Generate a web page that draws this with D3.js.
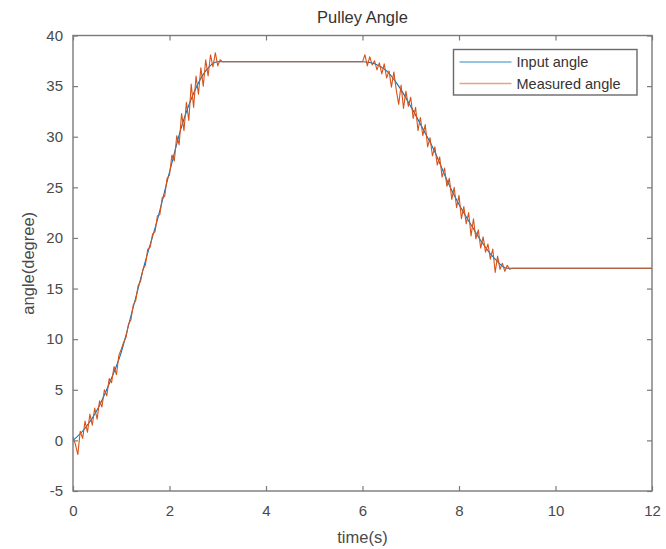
<!DOCTYPE html>
<html>
<head>
<meta charset="utf-8">
<script src="https://cdn.jsdelivr.net/npm/d3@7"></script>
<style>
  html, body { margin: 0; padding: 0; background: #fff; }
  svg { display: block; font-family: 'Liberation Sans', Arial, sans-serif; }
</style>
</head>
<body>
<div id="chart"></div>
<script>
(function () {
  'use strict';

  // Reference signal (deg) sampled off the plot
  var inputTime = [0, 0.25, 0.5, 0.75, 1.0, 1.25, 1.5, 1.75, 2.0, 2.25, 2.5, 2.75, 3.0,
    6.0, 6.25, 6.5, 6.75, 7.0, 7.25, 7.5, 7.75, 8.0, 8.25, 8.5, 8.75, 9.0, 12];
  var inputAngle = [0, 1.2, 3.0, 5.6, 8.7, 13.2, 17.7, 21.8, 26.5, 31.0, 34.3, 36.5, 37.4,
    37.4, 37.2, 36.5, 35.0, 33.0, 30.8, 28.5, 25.7, 23.3, 21.3, 19.4, 17.9, 17.0, 17.0];

  // Encoder reading, noisy on the ramps
  var measuredTime = [
    0.00, 0.05, 0.10, 0.15, 0.20, 0.25, 0.30, 0.35, 0.40, 0.45, 0.50, 0.55, 0.60, 0.65, 0.70, 0.75,
    0.80, 0.85, 0.90, 0.95, 1.00, 1.05, 1.10, 1.15, 1.20, 1.25, 1.30, 1.35, 1.40, 1.45, 1.50, 1.55,
    1.60, 1.65, 1.70, 1.75, 1.80, 1.85, 1.90, 1.95, 2.00, 2.05, 2.10, 2.15, 2.20, 2.25, 2.30, 2.35,
    2.40, 2.45, 2.50, 2.55, 2.60, 2.65, 2.70, 2.75, 2.80, 2.85, 2.90, 2.95, 3.00, 3.05, 3.10,
    6.00, 6.05, 6.10, 6.15, 6.20, 6.25, 6.30, 6.35, 6.40, 6.45, 6.50, 6.55, 6.60, 6.65, 6.70, 6.75,
    6.80, 6.85, 6.90, 6.95, 7.00, 7.05, 7.10, 7.15, 7.20, 7.25, 7.30, 7.35, 7.40, 7.45, 7.50, 7.55,
    7.60, 7.65, 7.70, 7.75, 7.80, 7.85, 7.90, 7.95, 8.00, 8.05, 8.10, 8.15, 8.20, 8.25, 8.30, 8.35,
    8.40, 8.45, 8.50, 8.55, 8.60, 8.65, 8.70, 8.75, 8.80, 8.85, 8.90, 8.95, 9.00, 9.05, 9.10,
    12.0];
  var measuredAngle = [
    0.3, -0.4, -1.4, 0.9, 0.2, 1.9, 0.8, 2.6, 1.5, 3.2, 2.1, 3.9, 3.3, 5.0, 4.4, 6.1,
    5.7, 7.3, 6.5, 8.4, 9.0, 9.7, 10.2, 11.5, 11.9, 13.4, 13.8, 15.3, 15.7, 16.9, 17.3, 18.9,
    19.1, 20.4, 20.6, 22.2, 22.3, 24.0, 24.1, 25.9, 26.2, 28.2, 27.6, 30.1, 29.2, 32.3, 30.6, 33.4,
    31.6, 35.2, 32.9, 36.0, 34.2, 36.8, 35.0, 37.6, 36.0, 38.1, 36.9, 38.3, 37.0, 37.6, 37.4,
    37.4, 38.1, 37.0, 37.9, 37.1, 37.5, 36.6, 37.3, 36.2, 37.2, 35.8, 36.5, 34.9, 36.4, 34.6, 33.2,
    35.1, 32.8, 34.5, 33.0, 33.9, 31.8, 32.9, 30.6, 31.9, 30.1, 31.2, 29.0, 29.9, 28.1, 29.0, 27.2,
    28.0, 26.0, 26.9, 25.1, 25.9, 23.8, 25.0, 23.0, 24.2, 21.9, 23.1, 21.4, 22.5, 20.2, 21.9, 19.9,
    20.8, 19.0, 20.1, 18.6, 19.4, 17.9, 18.9, 16.6, 18.2, 16.9, 17.5, 16.7, 17.3, 16.9, 17.0,
    17.0];

  var xTicks = [0, 2, 4, 6, 8, 10, 12];
  var yTicks = [-5, 0, 5, 10, 15, 20, 25, 30, 35, 40];
  var seriesNames = ['Input angle', 'Measured angle'];
  var seriesColors = ['#0072BD', '#D95319'];

  var width = 666, height = 549;
  var margin = {top: 35.5, right: 14, bottom: 58, left: 73};
  var axisColor = '#7a7a7a', textColor = '#4a4a4a';
  var tickLen = 5;

  var svg = d3.select('#chart').append('svg')
    .attr('width', width)
    .attr('height', height);

  var x = d3.scaleLinear().domain([0, 12]).range([margin.left, width - margin.right]);
  var y = d3.scaleLinear().domain([-5, 40]).range([height - margin.bottom, margin.top]);

  var x0 = x.range()[0], x1 = x.range()[1];
  var yb = y.range()[0], yt = y.range()[1];

  // plain hyphen for negatives, like the original figure
  function plain(d) { return String(d); }

  function zip(xs, ys) {
    return xs.map(function (t, i) { return [t, ys[i]]; });
  }

  var line = d3.line()
    .x(function (d) { return x(d[0]); })
    .y(function (d) { return y(d[1]); });

  // data lines
  svg.append('path')
    .datum(zip(inputTime, inputAngle))
    .attr('fill', 'none')
    .attr('stroke', seriesColors[0])
    .attr('stroke-width', 1.1)
    .attr('d', line.curve(d3.curveMonotoneX));

  svg.append('path')
    .datum(zip(measuredTime, measuredAngle))
    .attr('fill', 'none')
    .attr('stroke', seriesColors[1])
    .attr('stroke-width', 1.1)
    .attr('stroke-linejoin', 'round')
    .attr('d', line.curve(d3.curveLinear));

  // axes: ticks inside, mirrored on top/right (box on)
  var bottom = svg.append('g').attr('transform', 'translate(0,' + yb + ')')
    .call(d3.axisBottom(x).tickValues(xTicks).tickFormat(plain)
      .tickSizeInner(-tickLen).tickSizeOuter(0).tickPadding(14));
  var top = svg.append('g').attr('transform', 'translate(0,' + yt + ')')
    .call(d3.axisTop(x).tickValues(xTicks).tickSizeInner(-tickLen).tickSizeOuter(0).tickFormat(''));
  var left = svg.append('g').attr('transform', 'translate(' + x0 + ',0)')
    .call(d3.axisLeft(y).tickValues(yTicks).tickFormat(plain)
      .tickSizeInner(-tickLen).tickSizeOuter(0).tickPadding(10));
  var right = svg.append('g').attr('transform', 'translate(' + x1 + ',0)')
    .call(d3.axisRight(y).tickValues(yTicks).tickSizeInner(-tickLen).tickSizeOuter(0).tickFormat(''));

  [bottom, top, left, right].forEach(function (g) {
    g.select('.domain').remove();
    g.selectAll('.tick line').attr('stroke', axisColor).attr('stroke-width', 1.2);
    g.selectAll('.tick text')
      .attr('fill', textColor)
      .attr('font-size', 15)
      .attr('font-family', "'Liberation Sans', Arial, sans-serif");
  });

  svg.append('rect')
    .attr('x', x0).attr('y', yt)
    .attr('width', x1 - x0).attr('height', yb - yt)
    .attr('fill', 'none')
    .attr('stroke', axisColor)
    .attr('stroke-width', 1.4);

  // title and labels
  svg.append('text')
    .attr('x', (x0 + x1) / 2).attr('y', 23)
    .attr('text-anchor', 'middle')
    .attr('font-size', 16.5)
    .attr('fill', '#333')
    .text('Pulley Angle');

  svg.append('text')
    .attr('x', (x0 + x1) / 2).attr('y', 543)
    .attr('text-anchor', 'middle')
    .attr('font-size', 16.5)
    .attr('fill', textColor)
    .text('time(s)');

  svg.append('text')
    .attr('transform', 'translate(34,' + ((yt + yb) / 2) + ') rotate(-90)')
    .attr('text-anchor', 'middle')
    .attr('font-size', 16.5)
    .attr('fill', textColor)
    .text('angle(degree)');

  // legend
  var legend = svg.append('g').attr('transform', 'translate(453.5,49.5)');
  legend.append('rect')
    .attr('width', 183.5).attr('height', 45.5)
    .attr('fill', '#fff')
    .attr('stroke', '#6a6a6a')
    .attr('stroke-width', 1.4);

  var entries = legend.selectAll('g.entry')
    .data(seriesNames)
    .enter().append('g')
    .attr('class', 'entry')
    .attr('transform', function (d, i) { return 'translate(0,' + (12.5 + i * 21.5) + ')'; });

  entries.append('line')
    .attr('x1', 6).attr('x2', 58)
    .attr('stroke', function (d, i) { return seriesColors[i]; })
    .attr('stroke-opacity', 0.55)
    .attr('stroke-width', 1.3);

  entries.append('text')
    .attr('x', 63).attr('y', 5)
    .attr('font-size', 14.5)
    .attr('fill', '#333')
    .text(function (d) { return d; });
}());
</script>
</body>
</html>
